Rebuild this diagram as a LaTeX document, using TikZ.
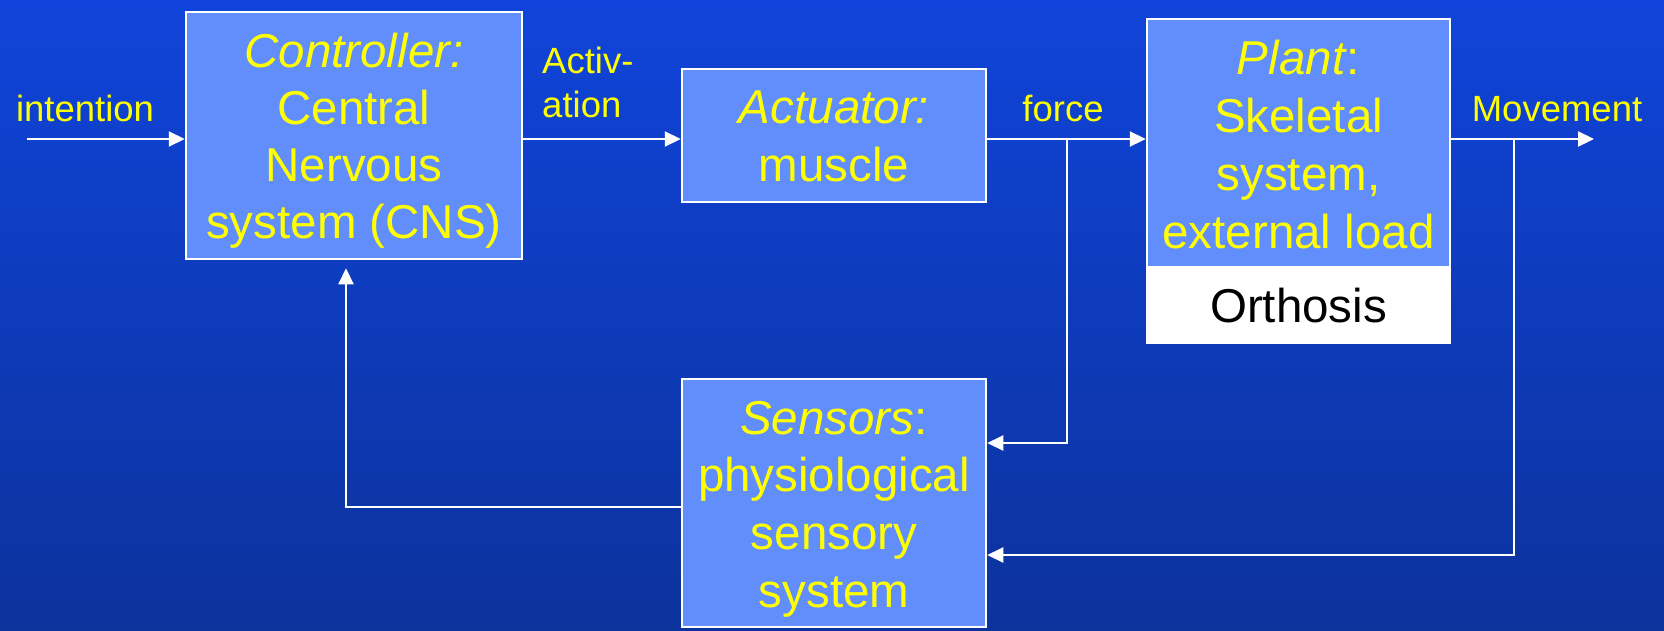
\documentclass[tikz,border=0pt]{standalone}
\usepackage{fontspec}
\setmainfont{Liberation Sans}
\usetikzlibrary{arrows.meta}

\definecolor{bgtop}{RGB}{16,68,218}
\definecolor{bgbot}{RGB}{12,50,156}
\definecolor{boxblue}{RGB}{97,142,250}
\definecolor{sigyellow}{RGB}{255,255,0}

% centred / left-aligned line stacks whose baseline is the first line's baseline
\newcommand\boxlines[2]{\vtop{\baselineskip=#1\halign{\hfil##\hfil\cr#2\crcr}}}
\newcommand\leftlines[2]{\vtop{\baselineskip=#1\halign{##\hfil\cr#2\crcr}}}

\begin{document}
\begin{tikzpicture}[x=1pt,y=-1pt,
  blk/.style={draw=white, line width=2.5pt, fill=boxblue, inner sep=0pt},
  blktext/.style={anchor=base, inner sep=0pt, text=sigyellow,
                  font=\fontsize{47.5}{57.5}\selectfont},
  sig/.style={anchor=base, inner sep=0pt, text=sigyellow,
              font=\fontsize{36.5}{44}\selectfont},
  flow/.style={draw=white, line width=2.2pt, -{Triangle[length=16pt,width=15pt]}}]

% background
\fill[top color=bgtop, bottom color=bgbot] (0,0) rectangle (1664,630);
\useasboundingbox (0,0) rectangle (1664,630);

% blocks
\node[blk, minimum width=336pt, minimum height=247pt] (ctrl) at (354,135.5) {};
\node[blk, minimum width=304pt, minimum height=133pt] (act) at (834,135.5) {};
\node[blk, minimum width=303pt, minimum height=324pt] (plant) at (1298.5,181) {};
\node[fill=white, inner sep=0pt, minimum width=301pt, minimum height=76pt] (orth) at (1298.5,304) {};
\node[blk, minimum width=304pt, minimum height=248pt] (sens) at (834,503) {};

% block texts
\node[blktext] (ctrltext) at (354,67)
  {\boxlines{57pt}{\textit{Controller:}\cr Central\cr Nervous\cr system (CNS)}};
\node[blktext] (acttext) at (834,123)
  {\boxlines{58pt}{\textit{Actuator:}\cr muscle}};
\node[blktext] (planttext) at (1298.5,74)
  {\boxlines{58pt}{\textit{Plant}:\cr Skeletal\cr system,\cr external load}};
\node[blktext, text=black] (orthtext) at (1298.5,322) {Orthosis};
\node[blktext] (senstext) at (834,434)
  {\boxlines{57.7pt}{\textit{Sensors}:\cr physiological\cr sensory\cr system}};

% signal labels
\node[sig] (lintention) at (85,121) {intention};
\node[sig, anchor=base west] (lactivation) at (542,73) {\leftlines{44pt}{Activ-\cr ation}};
\node[sig] (lforce) at (1063,121) {force};
\node[sig] (lmovement) at (1557,121) {Movement};

% signal path
\coordinate (in) at (27,139);
\coordinate (out) at (1594,139);
\coordinate (forcetap) at (1067,139);
\coordinate (movetap) at (1514,139);

\draw[flow] (in) -- (in -| ctrl.west);
\draw[flow] (ctrl.east |- in) -- (act.west |- in);
\draw[flow] (act.east |- in) -- (plant.west |- in);
\draw[flow] (plant.east |- in) -- (out);

% feedback paths
\draw[flow] (forcetap) |- ([yshift=60pt]sens.east);
\draw[flow] (movetap) |- ([yshift=-52pt]sens.east);
\draw[flow] ([yshift=-4pt]sens.west) -| ([xshift=-8pt,yshift=-8pt]ctrl.south);
\end{tikzpicture}
\end{document}
